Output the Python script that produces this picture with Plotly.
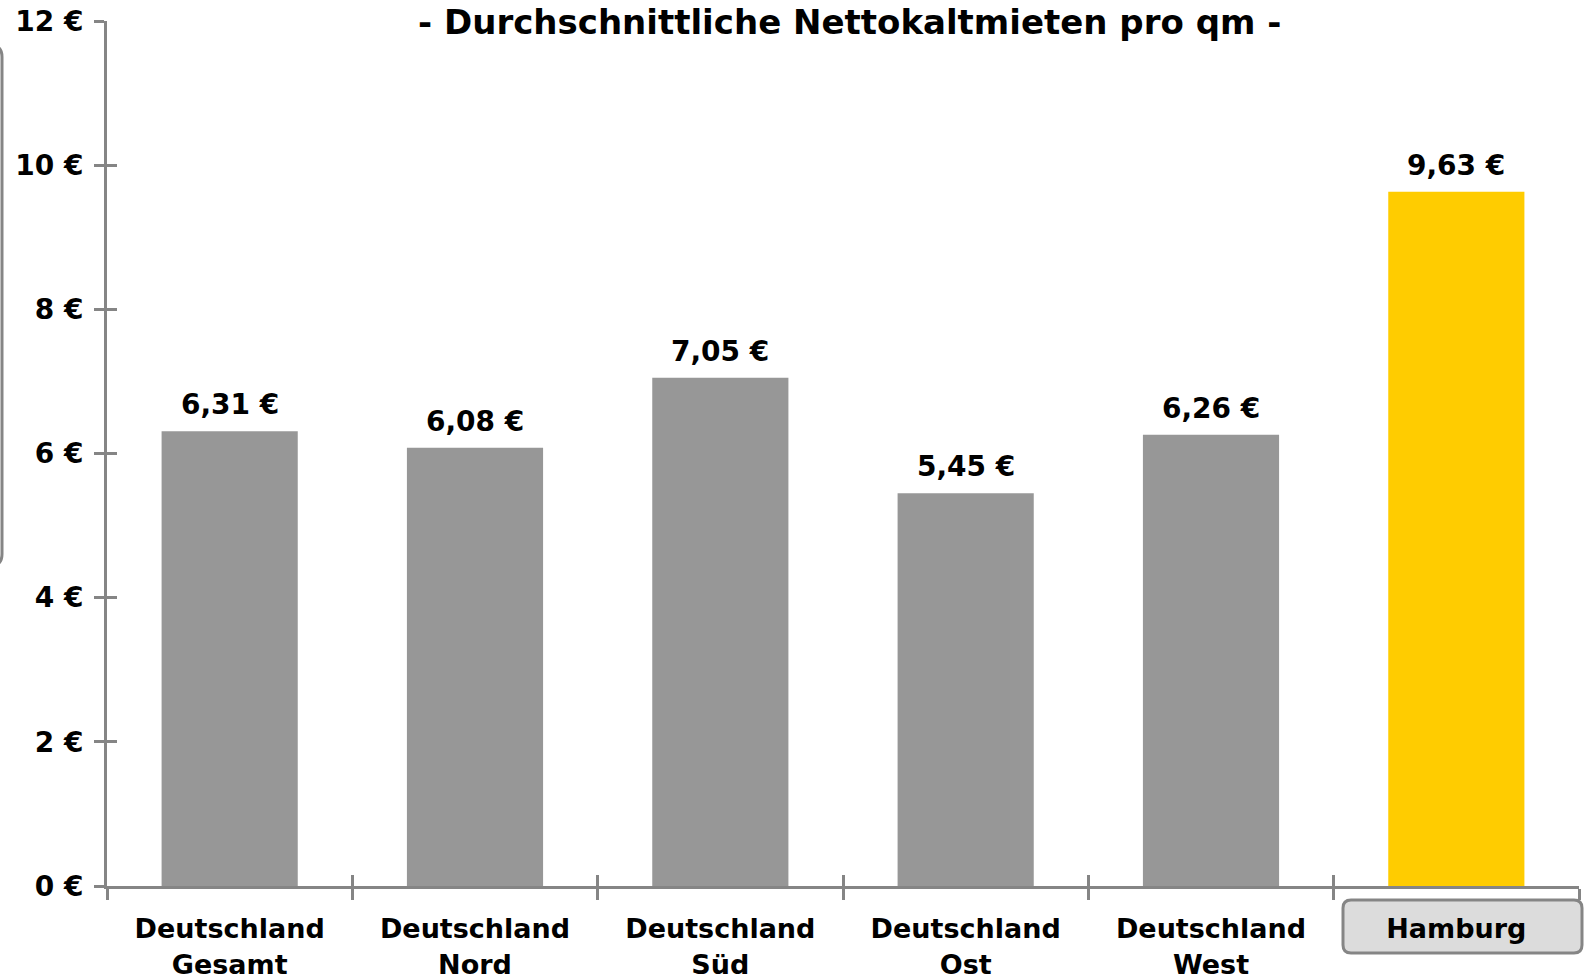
import plotly.graph_objects as go

categories = ["Deutschland<br>Gesamt", "Deutschland<br>Nord", "Deutschland<br>Süd",
              "Deutschland<br>Ost", "Deutschland<br>West", "Hamburg"]
values = [6.31, 6.08, 7.05, 5.45, 6.26, 9.63]
value_labels = ["6,31 €", "6,08 €", "7,05 €", "5,45 €", "6,26 €", "9,63 €"]
bar_colors = ["#979797", "#979797", "#979797", "#979797", "#979797", "#FFCC00"]
y_tickvals = [0, 2, 4, 6, 8, 10, 12]
y_ticktext = ["0 €", "2 €", "4 €", "6 €", "8 €", "10 €", "12 €"]
title_text = "- Durchschnittliche Nettokaltmieten pro qm -"

W, H = 1588, 976
L, R, T, B = 107, 9, 21, 90
FONT = "DejaVu Sans"
AX = "#858585"

fig = go.Figure()
fig.add_trace(go.Bar(x=categories, y=values, marker=dict(color=bar_colors, line=dict(width=0)),
                     width=0.555, hoverinfo="skip"))
# invisible trace to anchor the overlay axes (inside tick halves)
fig.add_trace(go.Scatter(x=[-0.5], y=[0], xaxis="x2", yaxis="y2", mode="markers",
                         marker=dict(opacity=0), hoverinfo="skip", showlegend=False))

for c, v, t in zip(categories, values, value_labels):
    fig.add_annotation(x=c, y=v, text="<b>%s</b>" % t, showarrow=False, yanchor="bottom",
                       yshift=8, font=dict(family=FONT, size=28, color="#000000"))

fig.update_layout(
    width=W, height=H, margin=dict(l=L, r=R, t=T, b=B, autoexpand=False),
    plot_bgcolor="white", paper_bgcolor="white", showlegend=False, bargap=0.445,
    font=dict(family=FONT, size=27, color="#000000"),
    xaxis=dict(type="category", range=[-0.5, 5.5], showline=True, linecolor=AX, linewidth=3,
               ticks="outside", ticklen=11, tickwidth=3, tickcolor=AX, tickson="boundaries",
               showgrid=False, zeroline=False, ticklabelstandoff=17, automargin=False,
               tickfont=dict(family=FONT, size=27, color="#000000", weight="bold")),
    yaxis=dict(range=[0, 12], tickvals=y_tickvals, ticktext=y_ticktext, showline=True,
               linecolor=AX, linewidth=3, ticks="outside", ticklen=10, tickwidth=3, tickcolor=AX,
               showgrid=False, zeroline=False, ticklabelstandoff=5, automargin=False,
               tickfont=dict(family=FONT, size=28, color="#000000", weight="bold")),
    xaxis2=dict(overlaying="x", range=[-0.5, 5.5], tickvals=[-0.5, 0.5, 1.5, 2.5, 3.5, 4.5, 5.5],
                ticks="inside", ticklen=11, tickwidth=3, tickcolor=AX, showticklabels=False,
                showgrid=False, zeroline=False, showline=False, side="bottom", anchor="y2",
                automargin=False),
    yaxis2=dict(overlaying="y", range=[0, 12], tickvals=y_tickvals, ticks="inside", ticklen=10,
                tickwidth=3, tickcolor=AX, showticklabels=False, showgrid=False, zeroline=False,
                showline=False, side="left", anchor="x2", automargin=False),
)

def px(x):
    return (x - L) / (W - L - R)

def py(y):
    return (H - B - y) / (H - T - B)

fig.add_annotation(text="<b>%s</b>" % title_text, xref="paper", yref="paper",
                   x=px(850), y=py(22), xanchor="center",
                   yanchor="middle", showarrow=False, font=dict(family=FONT, size=34, color="#000000"))

# rounded box behind the "Hamburg" label
x0, x1, y0, y1, r = 1343, 1582, 900, 953, 8
path = ("M {a},{b} L {c},{b} Q {d},{b} {d},{e} L {d},{f} Q {d},{g} {c},{g} L {a},{g} "
        "Q {h},{g} {h},{f} L {h},{e} Q {h},{b} {a},{b} Z").format(
    a=px(x0 + r), b=py(y0), c=px(x1 - r), d=px(x1), e=py(y0 + r), f=py(y1 - r), g=py(y1), h=px(x0))
fig.add_shape(type="path", path=path, xref="paper", yref="paper",
              fillcolor="#DCDCDC", line=dict(color="#858585", width=3), layer="below")

# partial rounded frame at the left edge
fx0, fx1, fy0, fy1, fr = -30, 2, 45, 566, 12
path2 = ("M {a},{b} L {c},{b} Q {d},{b} {d},{e} L {d},{f} Q {d},{g} {c},{g} L {a},{g}").format(
    a=px(fx0), b=py(fy0), c=px(fx1 - fr), d=px(fx1), e=py(fy0 + fr), f=py(fy1 - fr), g=py(fy1))
fig.add_shape(type="path", path=path2, xref="paper", yref="paper",
              line=dict(color="#858585", width=3))

fig.write_html("out.html", config={"displayModeBar": False},
               post_script="document.body.style.margin='0';")
